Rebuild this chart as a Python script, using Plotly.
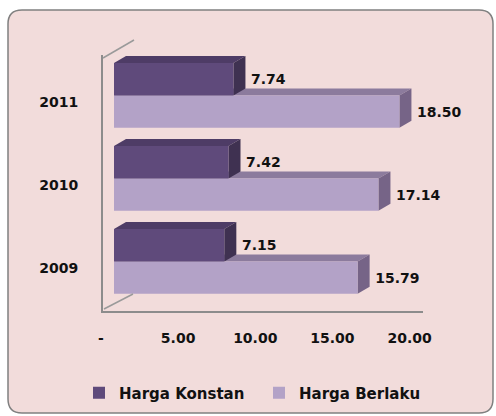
import plotly.graph_objects as go

# ---- data ----
years = [2009, 2010, 2011]
harga_konstan = [7.15, 7.42, 7.74]
harga_berlaku = [15.79, 17.14, 18.50]
series_names = ["Harga Konstan", "Harga Berlaku"]
x_tickvals = [0, 5, 10, 15, 20]
x_ticktext = ["-", "5.00", "10.00", "15.00", "20.00"]

# ---- styling ----
W, H = 496, 416
ML, MR, MT, MB = 103, 73, 55, 105
PW, PH = W - ML - MR, H - MT - MB
FONT = "DejaVu Sans"
C_K = dict(front="#5F4A7B", top="#4E3C66", side="#3F3151")
C_B = dict(front="#B3A2C7", top="#8C7B9D", side="#766487")
BAR_W = 0.39
OFF_K, OFF_B = 0.085, -0.305
DX, DY = 0.78, 0.084  # 3D depth in data units

def xp(px):
    return (px - ML) / PW

def yp(py):
    return (MT + PH - py) / PH

fig = go.Figure()
txt = "\u00a0\u00a0\u00a0%{x:.2f}"
fig.add_trace(go.Bar(
    y=years, x=harga_berlaku, name=series_names[1], orientation="h",
    width=BAR_W, offset=OFF_B, marker=dict(color=C_B["front"], line=dict(width=0)),
    texttemplate=txt, textposition="outside", cliponaxis=False,
    textfont=dict(family=FONT, size=14, color="#111111", weight="bold"),
    legendrank=2,
))
fig.add_trace(go.Bar(
    y=years, x=harga_konstan, name=series_names[0], orientation="h",
    width=BAR_W, offset=OFF_K, marker=dict(color=C_K["front"], line=dict(width=0)),
    texttemplate=txt, textposition="outside", cliponaxis=False,
    textfont=dict(family=FONT, size=14, color="#111111", weight="bold"),
    legendrank=1,
))

shapes = []
# panel (rounded rectangle)
L, R, T, B, r = 8, 493, 10, 413, 14
panel = (f"M {xp(L+r)},{yp(T)} L {xp(R-r)},{yp(T)} Q {xp(R)},{yp(T)} {xp(R)},{yp(T+r)} "
         f"L {xp(R)},{yp(B-r)} Q {xp(R)},{yp(B)} {xp(R-r)},{yp(B)} "
         f"L {xp(L+r)},{yp(B)} Q {xp(L)},{yp(B)} {xp(L)},{yp(B-r)} "
         f"L {xp(L)},{yp(T+r)} Q {xp(L)},{yp(T)} {xp(L+r)},{yp(T)} Z")
shapes.append(dict(type="path", xref="paper", yref="paper", path=panel,
                   fillcolor="#F2DCDB", line=dict(color="#808080", width=1.5), layer="below"))

# 3D faces computed from the data
def faces(vals, off, cols):
    out = []
    for y, v in zip(years, vals):
        y0, y1 = y + off, y + off + BAR_W
        top = f"M 0,{y1} L {v},{y1} L {v+DX},{y1+DY} L {DX},{y1+DY} Z"
        side = f"M {v},{y0} L {v},{y1} L {v+DX},{y1+DY} L {v+DX},{y0+DY} Z"
        out.append(dict(type="path", xref="x", yref="y", path=top,
                        fillcolor=cols["top"], line=dict(width=0), layer="below"))
        out.append(dict(type="path", xref="x", yref="y", path=side,
                        fillcolor=cols["side"], line=dict(width=0), layer="below"))
    return out

shapes += faces(harga_berlaku, OFF_B, C_B)
shapes += faces(harga_konstan, OFF_K, C_K)

# wall depth edges
for (a, b, c, d) in [(103, 58, 134, 40), (104, 309, 133, 294)]:
    shapes.append(dict(type="line", xref="paper", yref="paper",
                       x0=xp(a), y0=yp(b), x1=xp(c), y1=yp(d),
                       line=dict(color="#9A9A9A", width=1.5)))

fig.update_layout(
    width=W, height=H,
    margin=dict(l=ML, r=MR, t=MT, b=MB, autoexpand=False),
    paper_bgcolor="white", plot_bgcolor="rgba(0,0,0,0)",
    barmode="group", showlegend=True,
    shapes=shapes,
    font=dict(family=FONT, size=14, color="#111111", weight="bold"),
    legend=dict(orientation="h", x=xp(79), y=yp(393), xanchor="left", yanchor="middle",
                font=dict(family=FONT, size=15, color="#111111", weight="bold"),
                bgcolor="rgba(0,0,0,0)", traceorder="normal", entrywidth=135),
    xaxis=dict(range=[-0.713, 20.03], tickvals=x_tickvals, ticktext=x_ticktext,
               showgrid=False, zeroline=False, showline=True, linecolor="#8C8C8C",
               linewidth=2, ticks="", ticklabelshift=-13, ticklabelstandoff=13,
               tickfont=dict(family=FONT, size=14, color="#111111", weight="bold")),
    yaxis=dict(range=[2008.488, 2011.572], tickvals=years, ticktext=[str(y) for y in years],
               showgrid=False, zeroline=False, showline=True, linecolor="#8C8C8C",
               linewidth=2, ticks="", ticklabelstandoff=20,
               tickfont=dict(family=FONT, size=14, color="#111111", weight="bold")),
)

fig.write_html("out.html", post_script="document.body.style.margin='0';",
               config={"displayModeBar": False})
